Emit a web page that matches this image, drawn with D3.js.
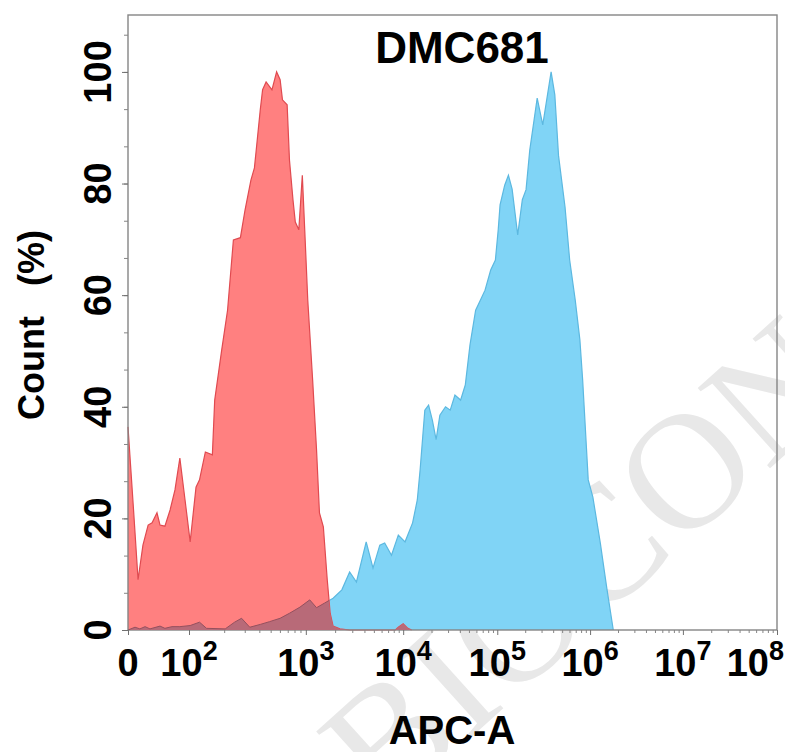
<!DOCTYPE html>
<html>
<head>
<meta charset="utf-8">
<script src="https://cdn.jsdelivr.net/npm/d3@7"></script>
<style>
  body { margin: 0; background: #fff; }
  svg { display: block; font-family: "Liberation Sans", Arial, sans-serif; }
</style>
</head>
<body>
<svg id="chart" width="785" height="752"></svg>
<script>
// histogram outlines: x as log10(APC-A) display decades, y as % of mode
const redLog = [0, 0.17, 0.33, 0.49, 0.66, 0.79, 0.95, 1.05, 1.21, 1.38, 1.54, 1.70, 1.87, 2.01, 2.06,
  2.09, 2.14, 2.20, 2.22, 2.28, 2.33, 2.38, 2.44, 2.48, 2.53, 2.56, 2.61, 2.63, 2.66, 2.71,
  2.75, 2.78, 2.80, 2.84, 2.86, 2.89, 2.91, 2.94, 2.97, 2.99, 3.02, 3.07, 3.11, 3.14, 3.18,
  3.22, 3.25, 3.28, 3.35, 3.45, 3.92, 3.95, 4.00, 4.05, 4.09];
const redPct = [36.4, 22.5, 9.0, 15.2, 18.8, 19.2, 21.0, 18.8, 18.6, 21.5, 25.1, 30.8, 23.3, 15.8, 25.6,
  26.9, 31.9, 31.4, 41.2, 50.2, 57.3, 69.9, 70.3, 75.3, 80.6, 82.8, 93.2, 96.8, 98.2, 96.8,
  100, 98.6, 95.0, 94.1, 84.2, 77.1, 73.1, 71.7, 81.5, 72.0, 59.1, 44.8, 32.3, 21.0, 18.5,
  9.0, 3.0, 0.7, 0.2, 0, 0, 0.5, 1.1, 0.3, 0];

const blueLog = [0, 0.23, 0.39, 0.56, 0.72, 1.05, 1.21, 1.44, 1.70, 2.01, 2.09, 2.15, 2.31, 2.39, 2.45,
  2.52, 2.61, 2.69, 2.78, 2.86, 2.95, 3.04, 3.11, 3.19, 3.28, 3.37, 3.45, 3.52, 3.62, 3.69,
  3.76, 3.81, 3.88, 3.95, 4.02, 4.10, 4.15, 4.18, 4.23, 4.27, 4.31, 4.35, 4.39, 4.45, 4.50,
  4.55, 4.61, 4.66, 4.71, 4.77, 4.82, 4.87, 4.93, 4.98, 5.01, 5.03, 5.08, 5.12, 5.16, 5.22,
  5.27, 5.31, 5.35, 5.43, 5.49, 5.58, 5.62, 5.66, 5.73, 5.78, 5.84, 5.89, 5.92, 5.98, 6.03,
  6.11, 6.18, 6.25];
const bluePct = [0, 0.5, 0.2, 0.6, 0.2, 0.7, 0.3, 0.6, 0.6, 0.8, 1.4, 0.3, 0.2, 1.4, 2.1,
  0.5, 1.0, 1.5, 2.1, 3.0, 4.1, 5.4, 4.0, 4.8, 5.7, 7.2, 10.4, 8.6, 15.8, 11.1,
  15.2, 15.6, 13.4, 17.0, 15.8, 19.2, 23.3, 28.7, 39.4, 40.3, 37.6, 34.1, 38.5, 40.0, 39.4,
  42.1, 41.2, 43.9, 51.1, 57.3, 59.1, 60.9, 64.5, 66.3, 71.7, 76.2, 79.7, 81.5, 79.0, 70.8,
  77.1, 78.9, 86.0, 95.3, 90.5, 100, 95.9, 85.0, 75.8, 66.3, 59.1, 52.0, 44.8, 26.9, 23.8,
  15.6, 7.5, 0];

// axis ticks and labels
const xDecades = [0, 2, 3, 4, 5, 6, 7, 8];
const xLabelBase = ["0", "10", "10", "10", "10", "10", "10", "10"];
const xLabelExp = ["", "2", "3", "4", "5", "6", "7", "8"];
const yTicks = [0, 20, 40, 60, 80, 100];

const title = "DMC681";
const xTitle = "APC-A";
const yTitle = "Count   (%)";

const margin = {top: 15, right: 8, bottom: 122, left: 128};
const W = 785, H = 752;
const width = W - margin.left - margin.right;
const height = H - margin.top - margin.bottom;

// biexponential-like display: uneven decade widths (fractions of plot width)
const decadeStops = [0, 0.094, 0.274, 0.424, 0.569, 0.712, 0.855, 1.0];

const x = d3.scaleLinear().domain(xDecades).range(decadeStops.map(f => f * width));
const y = d3.scaleLinear().domain([0, 110.2]).range([height, 0]);

const svg = d3.select("#chart");

// watermark, sits under the plot
svg.append("text")
  .attr("transform", "translate(385,815) rotate(-42)")
  .attr("font-family", "'Liberation Serif', 'DejaVu Serif', serif")
  .attr("font-size", 165)
  .attr("fill", "#e8e8e8")
  .text("BIOCON");

const g = svg.append("g").attr("transform", `translate(${margin.left},${margin.top})`);

svg.append("defs").append("clipPath").attr("id", "redClip")
  .append("path");

const red = redLog.map((d, i) => ({x: d, y: redPct[i]}));
const blue = blueLog.map((d, i) => ({x: d, y: bluePct[i]}));

const area = d3.area().x(d => x(d.x)).y0(y(0)).y1(d => y(d.y));
const line = d3.line().x(d => x(d.x)).y(d => y(d.y));

svg.select("#redClip path").attr("d", area(red)).attr("transform", `translate(${margin.left},${margin.top})`);

g.append("path").attr("d", area(blue)).attr("fill", "#80d4f6");
g.append("path").attr("d", line(blue)).attr("fill", "none").attr("stroke", "#5cb8e0").attr("stroke-width", 1.2);

g.append("path").attr("d", area(red)).attr("fill", "#ff8080");
g.append("path").attr("d", line(red)).attr("fill", "none").attr("stroke", "#e04a50").attr("stroke-width", 1.2);

// overlap of both populations
const ov = svg.append("g").attr("clip-path", "url(#redClip)")
  .append("g").attr("transform", `translate(${margin.left},${margin.top})`);
ov.append("path").attr("d", area(blue)).attr("fill", "#b86a78");
ov.append("path").attr("d", line(blue)).attr("fill", "none").attr("stroke", "#94505e").attr("stroke-width", 1);

// frame
g.append("rect").attr("width", width).attr("height", height)
  .attr("fill", "none").attr("stroke", "#858585").attr("stroke-width", 1.4);

// y axis
const yMinor = d3.range(0, 110, 20 / 3);
g.append("g").call(d3.axisLeft(y).tickValues(yMinor).tickSize(4).tickFormat(""))
  .call(a => a.select(".domain").remove())
  .selectAll("line").attr("stroke", "#858585");
g.append("g").call(d3.axisLeft(y).tickValues(yTicks).tickSize(6).tickFormat(""))
  .call(a => a.select(".domain").remove())
  .selectAll("line").attr("stroke", "#707070");

g.selectAll(".ylab").data(yTicks).join("text")
  .attr("class", "ylab")
  .attr("transform", d => `translate(-31,${y(d)}) rotate(-90)`)
  .attr("text-anchor", "middle")
  .attr("dy", "0.36em")
  .attr("font-size", 38)
  .attr("font-weight", "bold")
  .text(d => d);

// x axis
const xMinor = [];
xDecades.slice(1, -1).forEach(d => d3.range(2, 10).forEach(k => xMinor.push(d + Math.log10(k))));
g.append("g").attr("transform", `translate(0,${height})`)
  .call(d3.axisBottom(x).tickValues(xMinor).tickSize(3).tickFormat(""))
  .call(a => a.select(".domain").remove())
  .selectAll("line").attr("stroke", "#858585");
g.append("g").attr("transform", `translate(0,${height})`)
  .call(d3.axisBottom(x).tickValues(xDecades).tickSize(5).tickFormat(""))
  .call(a => a.select(".domain").remove())
  .selectAll("line").attr("stroke", "#707070");

const xl = g.selectAll(".xlab").data(xDecades).join("text")
  .attr("class", "xlab")
  .attr("x", (d, i) => i === xDecades.length - 1 ? width + margin.right - 1 : x(d))
  .attr("y", height + 46)
  .attr("text-anchor", (d, i) => i === xDecades.length - 1 ? "end" : "middle")
  .attr("font-size", 38)
  .attr("font-weight", "bold");
xl.append("tspan").text((d, i) => xLabelBase[i]);
xl.append("tspan").attr("dy", -16).attr("font-size", 27).text((d, i) => xLabelExp[i]);

// titles
svg.append("text").attr("x", 462).attr("y", 63)
  .attr("text-anchor", "middle").attr("font-size", 44).attr("font-weight", "bold")
  .text(title);

svg.append("text").attr("x", 452).attr("y", 744)
  .attr("text-anchor", "middle").attr("font-size", 40).attr("font-weight", "bold")
  .text(xTitle);

svg.append("text")
  .attr("transform", "translate(44,325) rotate(-90)")
  .attr("text-anchor", "middle")
  .style("white-space", "pre")
  .attr("font-size", 36).attr("font-weight", "bold")
  .text(yTitle);
</script>
</body>
</html>
